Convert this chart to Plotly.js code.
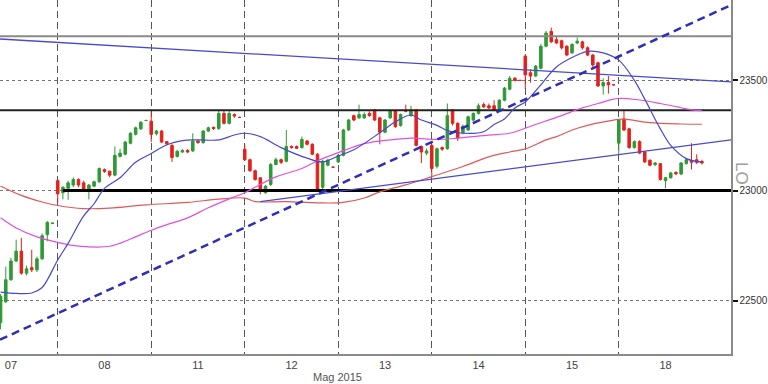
<!DOCTYPE html>
<html>
<head>
<meta charset="utf-8">
<script src="https://cdn.plot.ly/plotly-3.0.1.min.js"></script>
<style>html,body{margin:0;padding:0;background:#fff;}#chart{width:768px;height:384px;}</style>
</head>
<body>
<div id="chart"></div>
<script>
// ---- Data ----
const dayLabels = ['07','08','11','12','13','14','15','18'];
const labelPos  = [9, 27, 45, 63, 81, 99, 117, 135];   // candle index of each day's middle
const dayStarts = [18, 36, 54, 72, 90, 108, 126];       // first candle of each new day
const firstIndex = 7;                                    // index of first visible candle
const xRange = [6.89, 147.6];
const yRange = [22258, 23865];
const yTicks = [22500, 23000, 23500];
const yTickText = ['22500', '23000', '23500'];

const open = [
  22400,22495,22595,22680,22725,22625,22650,22640,22690,22800,22850,
  23045,22990,23010,23025,23050,23035,23003,23020,23040,23095,23088,23070,23155,23165,23215,23255,23280,23318,
  23315,23258,23270,23222,23205,23155,23175,23182,23180,23225,23218,23270,23287,23282,23350,23305,23345,23332,
  23187,23140,23090,23058,22990,23028,23118,23140,23133,23200,23200,23195,23225,23210,23165,23015,23115,23106,
  23130,23160,23275,23340,23330,23330,23350,23366,23330,23265,23330,23362,23295,23365,23340,23366,23200,23170,
  23205,23110,23195,23190,23366,23305,23262,23275,23320,23350,23390,23385,23385,23370,23410,23460,23510,23500,
  23610,23535,23520,23555,23655,23722,23685,23680,23655,23625,23670,23675,23648,23615,23580,23475,23490,23480,
  23215,23325,23280,23195,23222,23175,23138,23118,23122,23045,23058,23082,23075,23122,23137,23140,23132
];
const high = [
  22530,22655,22695,22777,22785,22660,22731,22700,22805,22862,22855,
  23055,23020,23045,23060,23055,23045,23030,23045,23105,23100,23090,23200,23190,23225,23265,23290,23315,23322,
  23360,23275,23275,23225,23210,23185,23188,23188,23260,23230,23275,23290,23290,23366,23366,23366,23350,23335,
  23210,23145,23095,23060,23025,23125,23150,23145,23275,23205,23205,23245,23230,23215,23170,23140,23145,23108,
  23165,23280,23325,23345,23390,23355,23360,23370,23335,23325,23366,23366,23350,23390,23385,23370,23205,23190,
  23210,23195,23200,23395,23370,23310,23300,23340,23355,23395,23400,23395,23410,23415,23470,23520,23515,23502,
  23620,23550,23570,23665,23725,23740,23700,23685,23660,23670,23695,23680,23655,23620,23585,23510,23520,23482,
  23325,23365,23285,23228,23228,23180,23140,23130,23125,23062,23085,23088,23130,23145,23215,23165,23140
];
const low = [
  22370,22490,22590,22675,22618,22615,22630,22630,22685,22770,22848,
  22945,22960,22958,23015,23015,22995,22960,23015,23035,23080,23060,23065,23150,23160,23210,23250,23275,23315,
  23220,23250,23215,23205,23130,23150,23170,23170,23175,23212,23212,23265,23275,23275,23300,23300,23330,23330,
  23135,23085,23045,22983,22985,23020,23115,23120,23128,23190,23188,23190,23205,23160,23003,23005,23110,23104,
  23125,23155,23270,23315,23325,23325,23335,23315,23210,23260,23325,23285,23290,23355,23335,23200,23125,23160,
  23060,23100,23180,23185,23295,23225,23255,23270,23315,23345,23375,23370,23360,23365,23405,23455,23495,23498,
  23460,23490,23515,23550,23650,23670,23665,23640,23610,23620,23665,23640,23610,23560,23470,23435,23440,23478,
  23160,23270,23190,23190,23165,23125,23110,23110,23045,23010,23055,23070,23070,23118,23095,23120,23118
];
const close = [
  22520,22595,22680,22725,22625,22645,22640,22690,22795,22855,22852,
  22985,23015,23035,23050,23025,23000,23025,23040,23100,23087,23070,23160,23170,23220,23260,23285,23310,23318,
  23255,23270,23220,23212,23150,23178,23182,23175,23225,23218,23270,23285,23282,23350,23305,23350,23338,23332,
  23140,23090,23050,23005,23020,23118,23140,23128,23200,23195,23192,23232,23210,23165,23005,23133,23138,23106,
  23160,23275,23320,23320,23345,23345,23340,23320,23265,23320,23362,23290,23345,23360,23365,23205,23175,23180,
  23100,23190,23188,23340,23305,23238,23292,23335,23350,23385,23380,23375,23366,23410,23465,23510,23500,23500,
  23525,23520,23565,23655,23715,23675,23670,23648,23615,23663,23678,23648,23615,23570,23475,23490,23480,23480,
  23320,23275,23195,23222,23170,23130,23115,23125,23050,23058,23080,23076,23125,23140,23128,23128,23125
];

// moving averages (read at selected candle indices)
const maFastX = [7,10,13,15,18,20,23,25,27,30,33,36,39,42,45,49,52,54,57,61,66,69,72,75,80,83,86,88,91,93,96,100,102,104,106,108,111,114,118,120,123,126,129,131,134,136,139,142];
const maFastY = [22539,22533,22535,22560,22685,22760,22885,22940,23010,23058,23128,23168,23208,23227,23230,23230,23252,23260,23245,23195,23147,23130,23157,23185,23262,23312,23343,23320,23296,23272,23260,23267,23300,23325,23375,23402,23480,23561,23615,23632,23625,23592,23500,23415,23280,23205,23145,23129];
const maMidX = [7,10,14,18,22,28,32,36,39,43,47,51,54,56,60,65,68,72,77,82,86,91,95,101,105,110,114,119,122,126,130,134,138,140,142];
const maMidY = [22876,22830,22790,22765,22748,22747,22780,22820,22845,22876,22922,22962,22990,23015,23062,23100,23135,23172,23213,23230,23238,23232,23238,23252,23260,23300,23332,23375,23395,23418,23411,23395,23376,23366,23363];
const maSlowX = [7,11,15,18,23,28,35,43,49,54,56,62,68,73,77,80,85,90,96,101,105,108,112,114,118,125,127,132,138,142];
const maSlowY = [23021,22978,22948,22932,22918,22920,22935,22946,22961,22966,22950,22950,22944,22946,22966,22994,23026,23063,23109,23153,23175,23189,23230,23245,23283,23320,23324,23308,23302,23301];

// horizontal levels and trend lines
const levelTop = 23700;
const levelMid = 23365;
const levelSupport = 23000;
const supportStartX = 19;
const trendDownX = [6.89, 147.6], trendDownY = [23688, 23493];
const trendUpX   = [57, 147.6],   trendUpY   = [22950, 23230];
const trendDashX = [6.89, 147.6], trendDashY = [22323, 23842];

// ---- Traces ----
const xIdx = open.map((_, k) => firstIndex + k);
const FONT = 'Liberation Sans, Arial, sans-serif';

const traces = [
  {type:'scatter', mode:'lines', x:xRange, y:[levelTop, levelTop], line:{color:'#8a8a8a', width:2}, hoverinfo:'skip'},
  {type:'scatter', mode:'lines', x:xRange, y:[levelMid, levelMid], line:{color:'#222', width:2}, hoverinfo:'skip'},
  {type:'scatter', mode:'lines', x:[supportStartX, xRange[1]], y:[levelSupport, levelSupport], line:{color:'#000', width:3}, hoverinfo:'skip'},
  {type:'candlestick', x:xIdx, open:open, high:high, low:low, close:close,
   increasing:{line:{color:'#2f9a35', width:1}, fillcolor:'#2f9a35'},
   decreasing:{line:{color:'#e5201c', width:1}, fillcolor:'#e5201c'},
   whiskerwidth:0, hoverinfo:'skip'},
  {type:'scatter', mode:'lines', x:maSlowX, y:maSlowY, line:{color:'#e0585a', width:1.2, shape:'spline'}, hoverinfo:'skip'},
  {type:'scatter', mode:'lines', x:maMidX, y:maMidY, line:{color:'#e050e0', width:1.2, shape:'spline'}, hoverinfo:'skip'},
  {type:'scatter', mode:'lines', x:maFastX, y:maFastY, line:{color:'#4848d0', width:1.2, shape:'spline'}, hoverinfo:'skip'},
  {type:'scatter', mode:'lines', x:trendDownX, y:trendDownY, line:{color:'#4a4acc', width:1.3}, hoverinfo:'skip'},
  {type:'scatter', mode:'lines', x:trendUpX, y:trendUpY, line:{color:'#4a4acc', width:1.3}, hoverinfo:'skip'},
  {type:'scatter', mode:'lines', x:trendDashX, y:trendDashY, line:{color:'#2e2eb8', width:2.5, dash:'8px,5px'}, hoverinfo:'skip'}
];

const layout = {
  width:768, height:384,
  margin:{l:0, r:37, t:0, b:30},
  paper_bgcolor:'#ffffff', plot_bgcolor:'#ffffff',
  showlegend:false,
  font:{family:FONT, size:11, color:'#444'},
  xaxis:{
    range:xRange, rangeslider:{visible:false},
    tickmode:'array', tickvals:labelPos, ticktext:dayLabels,
    ticks:'', showgrid:false, zeroline:false,
    showline:true, linecolor:'#8a8a8a', linewidth:1.5,
    tickfont:{family:FONT, size:11, color:'#444'},
    minor:{tickmode:'array', tickvals:dayStarts, showgrid:true, gridcolor:'#555', griddash:'7px,4px', gridwidth:1, ticks:''}
  },
  yaxis:{
    side:'right', range:yRange,
    tickmode:'array', tickvals:yTicks, ticktext:yTickText,
    ticks:'outside', ticklen:5, tickwidth:2, tickcolor:'#111',
    showgrid:true, gridcolor:'#777', griddash:'dot', gridwidth:1,
    zeroline:false, showline:true, linecolor:'#8a8a8a', linewidth:1.5,
    tickfont:{family:FONT, size:10, color:'#333'}
  },
  annotations:[
    {text:'Mag 2015', xref:'x', yref:'paper', x:71.9, y:-0.065, yanchor:'middle', showarrow:false,
     font:{family:FONT, size:11, color:'#555'}},
    {text:'LO', xref:'paper', yref:'paper', x:1.03, y:0.51, showarrow:false, textangle:90,
     font:{family:FONT, size:17, color:'#a0a0a0'}}
  ]
};

Plotly.newPlot('chart', traces, layout, {staticPlot:true, displayModeBar:false});
</script>
</body>
</html>
